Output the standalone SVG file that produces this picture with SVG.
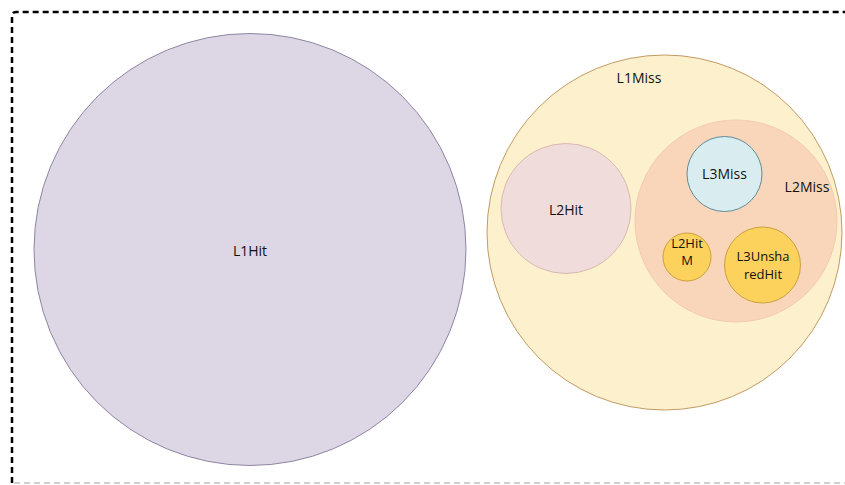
<svg xmlns="http://www.w3.org/2000/svg" width="845" height="485" viewBox="0 0 845 485">
  <style>
    .lbl { font-family: "Open Sans", "Noto Sans", "Liberation Sans", sans-serif; font-size: 14px; fill: #111; text-anchor: middle; dominant-baseline: central; }
    .sm { font-size: 13px; }
    .frame { fill: none; stroke: #000; stroke-width: 2.5; stroke-dasharray: 6 4; }
  </style>
  <rect width="845" height="485" fill="#fff"/>
  <!-- dashed outer frame -->
  <path class="frame" d="M12,483 V16 Q12,12 16,12 H850"/>
  <line x1="14" y1="483" x2="845" y2="483" stroke="#999" stroke-width="1.5" stroke-dasharray="6 4" opacity="0.6"/>

  <g id="L1Hit">
    <circle cx="250" cy="249.5" r="216" fill="#ddd7e5" stroke="#8f85a3" stroke-width="1"/>
    <text class="lbl" x="250" y="250">L1Hit</text>
  </g>
  <g id="L1Miss">
    <circle cx="664.5" cy="232.5" r="177.5" fill="#fdf0cd" stroke="#c29b63" stroke-width="1"/>
    <text class="lbl" x="639" y="77">L1Miss</text>
  </g>
  <g id="L2Hit">
    <circle cx="566" cy="208.5" r="65" fill="#f1dcdc" stroke="#d9b9b0" stroke-width="1"/>
    <text class="lbl" x="566" y="209">L2Hit</text>
  </g>
  <g id="L2Miss">
    <circle cx="736" cy="221" r="101" fill="#f9d5b9" stroke="#f4cbb0" stroke-width="1"/>
    <text class="lbl" x="807" y="186">L2Miss</text>
  </g>
  <g id="L3Miss">
    <circle cx="724.5" cy="174" r="37.5" fill="#d9edf1" stroke="#5f8d9a" stroke-width="1"/>
    <text class="lbl" x="724.5" y="173">L3Miss</text>
  </g>
  <g id="L2HitM">
    <circle cx="687" cy="257" r="24" fill="#fcd25c" stroke="#c9a13f" stroke-width="1"/>
    <text class="lbl sm" x="687" y="243">L2Hit</text>
    <text class="lbl sm" x="687" y="260">M</text>
  </g>
  <g id="L3UnsharedHit">
    <circle cx="762.5" cy="265" r="38" fill="#fcd25c" stroke="#c9a13f" stroke-width="1"/>
    <text class="lbl sm" x="763" y="256">L3Unsha</text>
    <text class="lbl sm" x="763" y="274">redHit</text>
  </g>
  <g id="connectors"/>
</svg>
